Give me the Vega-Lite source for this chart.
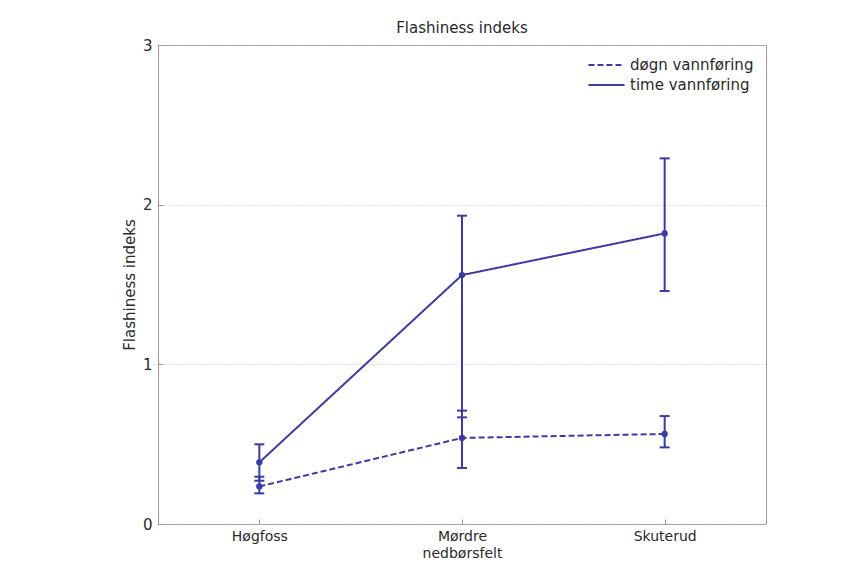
{
  "$schema": "https://vega.github.io/schema/vega-lite/v6.json",
  "width": 608,
  "height": 479,
  "autosize": "none",
  "padding": {"left": 158, "top": 45, "right": 86, "bottom": 54},
  "background": "white",
  "config": {
    "font": "DejaVu Sans",
    "view": {"stroke": "#9a9690", "strokeWidth": 1},
    "axis": {
      "domainColor": "#9a9690",
      "tickColor": "#9a9690",
      "labelColor": "#2a2a2a",
      "titleColor": "#2a2a2a",
      "labelFontSize": 15,
      "titleFontSize": 15,
      "titleFontWeight": "normal"
    }
  },
  "title": {"text": "Flashiness indeks", "fontSize": 15, "fontWeight": "normal", "color": "#2a2a2a", "offset": 2},
  "data": {
    "values": [
      {"site": "Høgfoss", "series": "døgn vannføring", "value": 0.235, "lo": 0.192, "hi": 0.296},
      {"site": "Mørdre", "series": "døgn vannføring", "value": 0.539, "lo": 0.351, "hi": 0.71},
      {"site": "Skuterud", "series": "døgn vannføring", "value": 0.564, "lo": 0.48, "hi": 0.676},
      {"site": "Høgfoss", "series": "time vannføring", "value": 0.386, "lo": 0.271, "hi": 0.499},
      {"site": "Mørdre", "series": "time vannføring", "value": 1.559, "lo": 0.668, "hi": 1.931},
      {"site": "Skuterud", "series": "time vannføring", "value": 1.82, "lo": 1.459, "hi": 2.29}
    ]
  },
  "encoding": {
    "x": {
      "field": "site",
      "type": "ordinal",
      "sort": ["Høgfoss", "Mørdre", "Skuterud"],
      "scale": {"type": "point", "padding": 0.5},
      "axis": {"title": "nedbørsfelt", "labelAngle": 0, "labelFontSize": 14, "titleFontSize": 14, "offset": -5, "tickSize": 5, "labelPadding": 5, "titlePadding": 3, "domain": false}
    }
  },
  "layer": [
    {
      "mark": {"type": "line", "strokeWidth": 2, "color": "#3b3ba6"},
      "encoding": {
        "y": {
          "field": "value",
          "type": "quantitative",
          "scale": {"domain": [0, 3], "nice": false},
          "axis": {"title": "Flashiness indeks", "values": [0, 1, 2, 3], "format": "d", "offset": -5, "tickSize": 5, "labelPadding": 6, "titlePadding": 5, "grid": true, "gridColor": "#c8c8c8", "gridDash": [1, 2], "domain": false}
        },
        "strokeDash": {
          "field": "series",
          "type": "nominal",
          "scale": {"domain": ["døgn vannføring", "time vannføring"], "range": [[6, 3], [1, 0]]},
          "legend": {
            "title": null,
            "orient": "top-right",
            "offset": 12,
            "labelFontSize": 15,
            "labelColor": "#2a2a2a",
            "symbolType": "stroke",
            "symbolStrokeColor": "#3b3ba6",
            "symbolStrokeWidth": 2,
            "symbolSize": 1300,
            "clipHeight": 16,
            "rowPadding": 4,
            "labelOffset": 4
          }
        }
      }
    },
    {
      "mark": {"type": "point", "filled": true, "size": 40, "color": "#3b3ba6", "opacity": 1},
      "encoding": {"y": {"field": "value", "type": "quantitative"}}
    },
    {
      "mark": {"type": "rule", "strokeWidth": 2, "color": "#3b3ba6"},
      "encoding": {"y": {"field": "lo", "type": "quantitative"}, "y2": {"field": "hi"}}
    },
    {
      "mark": {"type": "tick", "thickness": 2, "size": 10, "color": "#3b3ba6", "opacity": 1},
      "encoding": {"y": {"field": "lo", "type": "quantitative"}}
    },
    {
      "mark": {"type": "tick", "thickness": 2, "size": 10, "color": "#3b3ba6", "opacity": 1},
      "encoding": {"y": {"field": "hi", "type": "quantitative"}}
    }
  ]
}
